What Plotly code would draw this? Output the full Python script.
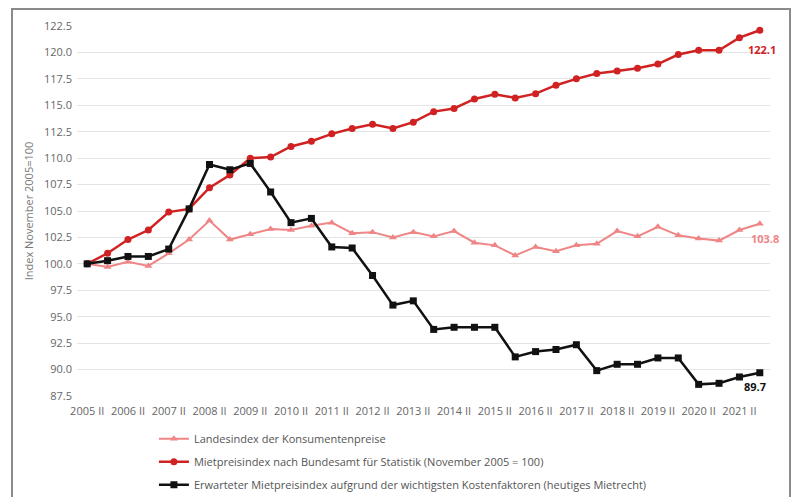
import plotly.graph_objects as go

# categories (semi-annual)
categories = ["2005 II"]
for yr in range(2006, 2022):
    categories += [f"{yr} I", f"{yr} II"]
categories += ["2022 I"]

tick_labels = [f"{yr} II" for yr in range(2005, 2022)]

lik = [100.0, 99.7, 100.2, 99.8, 101.0, 102.3, 104.1, 102.3, 102.8, 103.3,
       103.2, 103.6, 103.9, 102.9, 103.0, 102.5, 103.0, 102.6, 103.1, 102.0,
       101.75, 100.8, 101.6, 101.2, 101.75, 101.9, 103.1, 102.6, 103.5, 102.7,
       102.4, 102.2, 103.2, 103.8]

mietpreis = [100.0, 101.0, 102.3, 103.2, 104.9, 105.2, 107.2, 108.4, 110.0, 110.1,
             111.1, 111.6, 112.3, 112.8, 113.2, 112.8, 113.4, 114.4, 114.7, 115.6,
             116.05, 115.7, 116.1, 116.9, 117.5, 118.0, 118.25, 118.5, 118.9, 119.8,
             120.2, 120.2, 121.4, 122.1]

erwartet = [100.0, 100.3, 100.7, 100.7, 101.4, 105.2, 109.4, 108.9, 109.5, 106.8,
            103.9, 104.3, 101.6, 101.5, 98.9, 96.1, 96.5, 93.8, 94.0, 94.0,
            94.0, 91.2, 91.7, 91.9, 92.35, 89.9, 90.5, 90.5, 91.1, 91.1,
            88.6, 88.7, 89.3, 89.7]

names = ["Landesindex der Konsumentenpreise",
         "Mietpreisindex nach Bundesamt für Statistik (November 2005 = 100)",
         "Erwarteter Mietpreisindex aufgrund der wichtigsten Kostenfaktoren (heutiges Mietrecht)"]

PINK = "#ef8585"
RED = "#d02222"
BLACK = "#111111"

fig = go.Figure()
fig.add_trace(go.Scatter(x=categories, y=lik, name=names[0], mode="lines+markers",
                         line=dict(color=PINK, width=2),
                         marker=dict(symbol="triangle-up", size=7, color=PINK),
                         legendgroup="a", cliponaxis=False))
fig.add_trace(go.Scatter(x=categories, y=mietpreis, name=names[1], mode="lines+markers",
                         line=dict(color=RED, width=2.5),
                         marker=dict(symbol="circle", size=7, color=RED),
                         legendgroup="b", cliponaxis=False))
fig.add_trace(go.Scatter(x=categories, y=erwartet, name=names[2], mode="lines+markers",
                         line=dict(color=BLACK, width=2.5),
                         marker=dict(symbol="square", size=7, color=BLACK),
                         legendgroup="c", cliponaxis=False))

# end labels
for series, col, txt, xs, ys in [(mietpreis, RED, "122.1", 2, -19),
                                 (lik, PINK, "103.8", 5, -15),
                                 (erwartet, BLACK, "89.7", -5, -14)]:
    fig.add_annotation(x=categories[-1], y=series[-1], text=f"<b>{txt}</b>", showarrow=False,
                       xshift=xs, yshift=ys, font=dict(color=col, size=11, family="Open Sans"))

# outer frame (open at the bottom)
fig.add_shape(type="rect", xref="paper", yref="paper",
              x0=-0.0938, x1=1.0289, y0=-0.3, y1=1.046,
              line=dict(color="#8a8a8a", width=2), fillcolor="rgba(0,0,0,0)", layer="below")

fig.update_layout(
    template="none",
    width=791, height=489,
    margin=dict(l=69, r=29, t=18, b=101, autoexpand=False),
    paper_bgcolor="white", plot_bgcolor="white",
    font=dict(family="Open Sans", size=11, color="#666666"),
    showlegend=True,
    legend=dict(x=0.111, xanchor="left", y=-0.0766, yanchor="top",
                orientation="v", tracegroupgap=4, itemwidth=30,
                font=dict(size=11, color="#555555", family="Open Sans"),
                bgcolor="rgba(0,0,0,0)", borderwidth=0),
    xaxis=dict(type="category", categoryorder="array", categoryarray=categories,
               tickmode="array", tickvals=tick_labels, ticktext=tick_labels,
               range=[-0.5, len(categories) - 0.5], showgrid=False, showline=False,
               zeroline=False, ticks="outside", ticklen=5, tickcolor="rgba(0,0,0,0)",
               tickangle=0, automargin=False, tickfont=dict(size=11, color="#666666")),
    yaxis=dict(range=[87.5, 122.5], dtick=2.5, tick0=87.5, tickformat=".1f",
               showgrid=True, gridcolor="#e4e4e4", gridwidth=1, zeroline=False,
               showline=False, ticks="", automargin=False, ticklabelstandoff=4,
               title=dict(text="Index November 2005=100", font=dict(size=11, color="#777777"), standoff=8),
               tickfont=dict(size=11, color="#666666")),
)

fig.write_html("out.html")
